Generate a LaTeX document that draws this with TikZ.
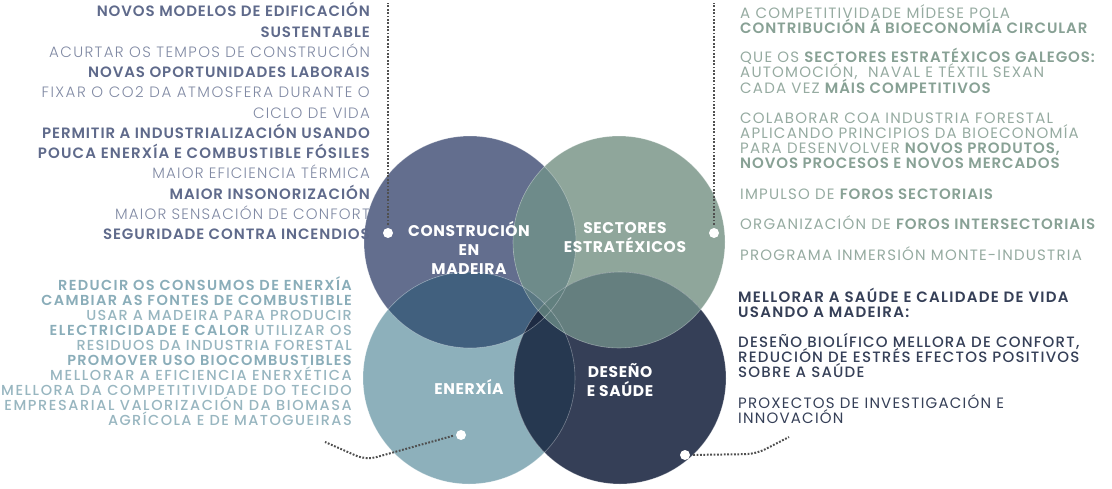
\documentclass[tikz,border=0pt]{standalone}
\usepackage{fontspec}
\setmainfont{Poppins}[LetterSpace=8]
\IfFontExistsTF{Poppins Light}{\newfontfamily\fl{Poppins Light}[LetterSpace=8]}{\newfontfamily\fl{Poppins}[LetterSpace=8]}
\IfFontExistsTF{Poppins SemiBold}{\newfontfamily\fb{Poppins SemiBold}[LetterSpace=6]}{\def\fb{\bfseries}}
\IfFontExistsTF{Poppins Medium}{\newfontfamily\fm{Poppins Medium}[LetterSpace=8]}{\newfontfamily\fm{Poppins}[LetterSpace=8]}
\IfFontExistsTF{Poppins Medium}{\newfontfamily\fmw{Poppins Medium}[LetterSpace=11]}{\newfontfamily\fmw{Poppins}[LetterSpace=11]}
\IfFontExistsTF{Poppins Bold}{\newfontfamily\fx{Poppins Bold}[LetterSpace=4]}{\def\fx{\bfseries}}
\newcommand\lsp[1]{\addfontfeatures{LetterSpace=#1}}
\definecolor{cTL}{HTML}{636E8E}
\definecolor{cTR}{HTML}{8FA69B}
\definecolor{cBL}{HTML}{8DB0BB}
\definecolor{cBR}{HTML}{353F57}
\definecolor{cTLTR}{HTML}{6E8B8A}
\definecolor{cTLBL}{HTML}{41607E}
\definecolor{cTRBR}{HTML}{657F7F}
\definecolor{cBLBR}{HTML}{263850}
\definecolor{cTLBR}{HTML}{4A6074}
\definecolor{cTRBL}{HTML}{6A8A8E}
\definecolor{cTLTRBL}{HTML}{5A7882}
\definecolor{cTLTRBR}{HTML}{62807F}
\definecolor{cTLBLBR}{HTML}{1E2B43}
\definecolor{cTRBLBR}{HTML}{5E7B7C}
\definecolor{cALL}{HTML}{5A7878}
\definecolor{tlB}{HTML}{5F6A8B}
\definecolor{tlL}{HTML}{8089A3}
\definecolor{lbB}{HTML}{8AADB9}
\definecolor{lbR}{HTML}{98B6C0}
\definecolor{rtR}{HTML}{96ABA1}
\definecolor{rtB}{HTML}{88A195}
\definecolor{rbC}{HTML}{353F57}
\definecolor{dotline}{HTML}{505050}
\begin{document}
\begin{tikzpicture}[x=1pt,y=-1pt,
  ltop/.style={anchor=base east,inner sep=0pt,font=\fontsize{15}{18}\selectfont,text=tlB},
  lbot/.style={anchor=base east,inner sep=0pt,font=\fontsize{14.5}{16}\selectfont,text=lbB},
  rtop/.style={anchor=base west,inner sep=0pt,font=\fontsize{15}{16}\selectfont,text=rtR},
  rbot/.style={anchor=base west,inner sep=0pt,font=\fontsize{15}{16}\selectfont,text=rbC},
  clabel/.style={align=center,inner sep=0pt,text=white,font=\fontsize{15.5}{19}\selectfont\fx},
  dot/.style={circle,fill=white,inner sep=0pt,minimum size=10pt},
  conn/.style={draw=dotline,line width=2pt,dash pattern=on 1.8pt off 1.6pt},
  ring/.style={draw=white,draw opacity=0.35,line width=0.6pt}]
\useasboundingbox (0,0) rectangle (1112,488);
\def\rr{106}
\def\pTL{(470,242) circle[radius=\rr]}
\def\pTR{(619,242) circle[radius=\rr]}
\def\pBL{(469,378) circle[radius=\rr]}
\def\pBR{(620,378) circle[radius=\rr]}
% base circles
\fill[cTL] \pTL;
\fill[cTR] \pTR;
\fill[cBL] \pBL;
\fill[cBR] \pBR;
% pair overlaps
\begin{scope}\clip \pTL; \fill[cTLTR] \pTR; \end{scope}
\begin{scope}\clip \pTL; \fill[cTLBL] \pBL; \end{scope}
\begin{scope}\clip \pTR; \fill[cTRBR] \pBR; \end{scope}
\begin{scope}\clip \pBL; \fill[cBLBR] \pBR; \end{scope}
\begin{scope}\clip \pTL; \fill[cTLBR] \pBR; \end{scope}
\begin{scope}\clip \pTR; \fill[cTRBL] \pBL; \end{scope}
% triple overlaps
\begin{scope}\clip \pTL; \clip \pTR; \fill[cTLTRBL] \pBL; \end{scope}
\begin{scope}\clip \pTL; \clip \pTR; \fill[cTLTRBR] \pBR; \end{scope}
\begin{scope}\clip \pTL; \clip \pBL; \fill[cTLBLBR] \pBR; \end{scope}
\begin{scope}\clip \pTR; \clip \pBL; \fill[cTRBLBR] \pBR; \end{scope}
\begin{scope}\clip \pTL; \clip \pTR; \clip \pBL; \fill[cALL] \pBR; \end{scope}
% faint outlines
\draw[ring] \pTL; \draw[ring] \pTR; \draw[ring] \pBL; \draw[ring] \pBR;
% circle labels
\node[clabel] (labTL) at (469,247.5) {CONSTRUCIÓN\\EN\\MADEIRA};
\node[clabel] (labTR) at (625,238) {SECTORES\\ESTRATÉXICOS};
\node[clabel] (labBL) at (469,387) {ENERXÍA};
\node[clabel] (labBR) at (620,380) {DESEÑO\\E SAÚDE};
% dots and connectors
\node[dot] (dTL) at (388,233) {};
\node[dot] (dTR) at (714,233) {};
\node[dot] (dBL) at (461,435) {};
\node[dot] (dBR) at (685,455) {};
\coordinate (eTL) at (388,3);
\coordinate (eTR) at (714,3);
\coordinate (eBL) at (325,442);
\coordinate (eBR) at (789,437);
\draw[conn,shorten <=3pt] (dTL.north) -- (eTL);
\draw[conn,shorten <=3pt] (dTR.north) -- (eTR);
\draw[conn,rounded corners=10pt,shorten <=3pt] (dBL.west) -- (366,460) -- (eBL);
\draw[conn,rounded corners=10pt,shorten <=3pt] (dBR.east) -- (756,454) -- (eBR);
% left top text
\node[ltop] (a1) at (370,16.7) {\fb NOVOS MODELOS DE EDIFICACIÓN};
\node[ltop] (a2) at (370,37.0) {\fb SUSTENTABLE};
\node[ltop,text=tlL] (a3) at (370,57.2) {\fl\lsp{9} ACURTAR OS TEMPOS DE CONSTRUCIÓN};
\node[ltop] (a4) at (370,77.5) {\fb NOVAS OPORTUNIDADES LABORAIS};
\node[ltop,text=tlL] (a5) at (370,97.7) {\fl\lsp{10} FIXAR O CO2 DA ATMOSFERA DURANTE O};
\node[ltop,text=tlL] (a6) at (370,118.0) {\fl CICLO DE VIDA};
\node[ltop] (a7) at (370,138.2) {\fb PERMITIR A INDUSTRIALIZACIÓN USANDO};
\node[ltop] (a8) at (370,158.5) {\fb\lsp{7.5} POUCA ENERXÍA E COMBUSTIBLE FÓSILES};
\node[ltop,text=tlL] (a9) at (370,178.7) {\fl MAIOR EFICIENCIA TÉRMICA};
\node[ltop] (a10) at (370,199.0) {\fb MAIOR INSONORIZACIÓN};
\node[ltop,text=tlL] (a11) at (370,219.2) {\fl MAIOR SENSACIÓN DE CONFORT};
\node[ltop] (a12) at (370,239.5) {\fb SEGURIDADE CONTRA INCENDIOS};
% left bottom text
\node[lbot] (b1) at (352,290.0) {\fb\lsp{9.5} REDUCIR OS CONSUMOS DE ENERXÍA};
\node[lbot] (b2) at (352,305.1) {\fb\lsp{9.5} CAMBIAR AS FONTES DE COMBUSTIBLE};
\node[lbot,text=lbR] (b3) at (352,320.1) {\fm USAR A MADEIRA PARA PRODUCIR};
\node[lbot] (b4) at (352,335.2) {{\fb\lsp{10.5} ELECTRICIDADE E CALOR} {\color{lbR}\fm\lsp{10.5} UTILIZAR OS}};
\node[lbot,text=lbR] (b5) at (352,350.3) {\fm RESIDUOS DA INDUSTRIA FORESTAL};
\node[lbot] (b6) at (352,365.4) {\fb\lsp{9} PROMOVER USO BIOCOMBUSTIBLES};
\node[lbot,text=lbR] (b7) at (352,380.4) {\fm\lsp{11} MELLORAR A EFICIENCIA ENERXÉTICA};
\node[lbot,text=lbR] (b8) at (352,395.5) {\fmw MELLORA DA COMPETITIVIDADE DO TECIDO};
\node[lbot,text=lbR] (b9) at (352,410.6) {\fmw EMPRESARIAL VALORIZACIÓN DA BIOMASA};
\node[lbot,text=lbR] (b10) at (352,425.6) {\fm\lsp{10} AGRÍCOLA E DE MATOGUEIRAS};
% right top text
\node[rtop] (c1) at (740,18.0) {A COMPETITIVIDADE MÍDESE POLA};
\node[rtop,text=rtB] (c2) at (740,33.3) {\fb CONTRIBUCIÓN Á BIOECONOMÍA CIRCULAR};
\node[rtop] (c3) at (740,62.5) {QUE OS {\color{rtB}\fb SECTORES ESTRATÉXICOS GALEGOS:}};
\node[rtop] (c4) at (740,77.8) {AUTOMOCIÓN,\ \ NAVAL E TÉXTIL SEXAN};
\node[rtop] (c5) at (740,93.0) {CADA VEZ {\color{rtB}\fb MÁIS COMPETITIVOS}};
\node[rtop] (c6) at (740,123.0) {COLABORAR COA INDUSTRIA FORESTAL};
\node[rtop] (c7) at (740,138.3) {APLICANDO PRINCIPIOS DA BIOECONOMÍA};
\node[rtop] (c8) at (740,153.6) {PARA DESENVOLVER {\color{rtB}\fb NOVOS PRODUTOS,}};
\node[rtop,text=rtB] (c9) at (740,168.9) {\fb NOVOS PROCESOS E NOVOS MERCADOS};
\node[rtop] (c10) at (740,199.0) {IMPULSO DE {\color{rtB}\fb FOROS SECTORIAIS}};
\node[rtop] (c11) at (740,229.7) {ORGANIZACIÓN DE {\color{rtB}\fb FOROS INTERSECTORIAIS}};
\node[rtop] (c12) at (740,260.0) {PROGRAMA INMERSIÓN MONTE-INDUSTRIA};
% right bottom text
\node[rbot] (d1) at (738,302.0) {\fb\lsp{8.5} MELLORAR A SAÚDE E CALIDADE DE VIDA};
\node[rbot] (d2) at (738,317.4) {\fb\lsp{8.5} USANDO A MADEIRA:};
\node[rbot] (d3) at (738,347.0) {\fm DESEÑO BIOLÍFICO MELLORA DE CONFORT,};
\node[rbot] (d4) at (738,362.3) {\fm REDUCIÓN DE ESTRÉS EFECTOS POSITIVOS};
\node[rbot] (d5) at (738,377.6) {\fm SOBRE A SAÚDE};
\node[rbot] (d6) at (738,408.6) {PROXECTOS DE INVESTIGACIÓN E};
\node[rbot] (d7) at (738,423.8) {INNOVACIÓN};
\end{tikzpicture}
\end{document}
